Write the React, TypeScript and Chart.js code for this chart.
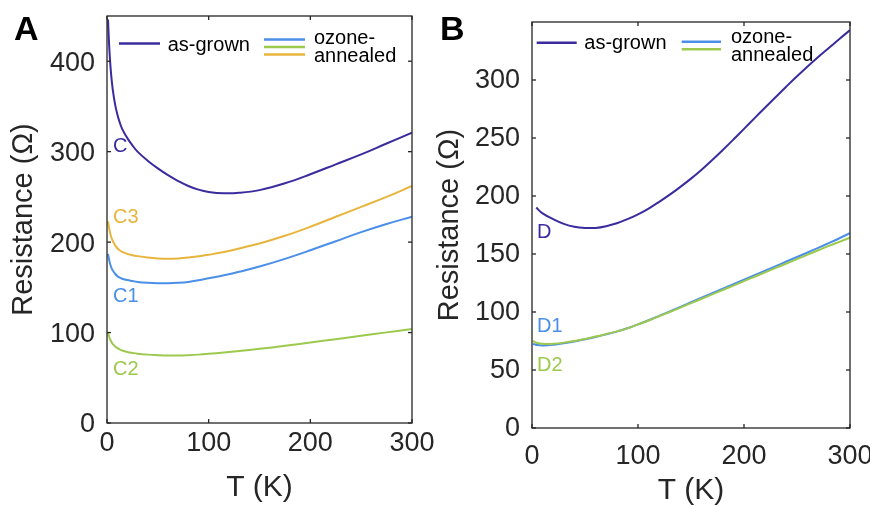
import React, { useEffect, useRef } from 'react';
import { Chart, registerables } from 'chart.js';

Chart.register(...registerables);

// ---------------- Data ----------------
// Panel A (sample C)
const T_A = [1, 2, 3, 4, 5, 6, 8, 10, 12, 15, 20, 25, 30, 40, 50, 60, 70, 80, 90, 100, 115, 130, 150, 175, 200, 225, 250, 275, 300];
const R_C = [446, 420, 401, 386, 375, 366, 352, 342, 334, 325, 315, 307, 300, 290, 281.5, 274, 267.5, 262, 258, 255.5, 254, 254.5, 257.5, 265, 275, 286, 297, 309, 321];
const R_C1 = [187, 181, 176, 172.5, 170, 168, 165, 162.7, 161, 159.5, 158, 157, 156, 155, 154.5, 154.5, 155, 156, 157.8, 160, 163.3, 167.2, 173, 181.5, 191, 201, 211, 220, 228];
const R_C2 = [100, 96, 92.8, 90.3, 88.4, 86.9, 84.7, 83, 81.7, 80.2, 78.6, 77.5, 76.6, 75.6, 75, 74.6, 74.6, 75, 75.6, 76.5, 78, 79.6, 82, 85.3, 89, 92.7, 96.5, 100.2, 104];
const R_C3 = [223, 216, 210.5, 206.3, 203, 200.5, 196.5, 193.5, 191.3, 189.2, 187, 185.5, 184.5, 183, 182, 181.6, 182, 183, 184.4, 186, 189, 193, 198.5, 207, 217, 228, 239, 250, 262];

// Panel B (sample D)
const T_D = [4, 10, 20, 30, 40, 50, 60, 70, 80, 90, 100, 110, 120, 130, 140, 150, 160, 170, 180, 190, 200, 210, 220, 230, 240, 250, 260, 270, 280, 290, 300];
const R_D = [190, 185, 180, 176, 173.5, 172.5, 172.5, 174, 176.5, 180, 184.2, 189.2, 195, 201.2, 207.9, 215, 222.7, 231, 239.7, 248.7, 257.9, 267.1, 276.3, 285.4, 294.4, 303.2, 311.7, 319.8, 327.6, 335.4, 343];
const T_D12 = [1, 3, 5, 10, 15, 20, 30, 40, 50, 60, 70, 80, 90, 100, 110, 120, 130, 140, 150, 160, 170, 180, 190, 200, 210, 220, 230, 240, 250, 260, 270, 280, 290, 300];
const R_D1 = [72.5, 72, 71.5, 71.2, 71.3, 71.8, 73, 74.6, 76.5, 78.5, 80.7, 83.1, 86, 89.3, 92.9, 96.7, 100.5, 104.4, 108.4, 112.3, 116.2, 120.1, 124, 127.9, 131.8, 135.7, 139.6, 143.5, 147.4, 151.3, 155.3, 159.4, 163.6, 168];
const R_D2 = [75, 74, 73.3, 72.6, 72.4, 72.6, 73.6, 75, 76.8, 78.8, 81, 83.3, 85.9, 89.3, 92.7, 96.3, 100, 103.8, 107.6, 111.4, 115.2, 119, 122.8, 126.6, 130.4, 134.2, 138, 141.8, 145.6, 149.4, 153.2, 157, 160.5, 164];

// Axis ticks
const X_TICKS = [0, 100, 200, 300];
const Y_TICKS_A = [0, 100, 200, 300, 400];
const Y_TICKS_B = [0, 50, 100, 150, 200, 250, 300];

// Curve labels (data coordinates: T, R)
const NOTES_A = [
  { text: 'C', t: 5.9, r: 306, key: 'as' },
  { text: 'C3', t: 5.9, r: 227.6, key: 'yellow' },
  { text: 'C1', t: 5.9, r: 140.3, key: 'blue' },
  { text: 'C2', t: 5.9, r: 59.7, key: 'green' },
];
const NOTES_B = [
  { text: 'D', t: 4.7, r: 168.4, key: 'as' },
  { text: 'D1', t: 4.7, r: 87.5, key: 'blue' },
  { text: 'D2', t: 4.7, r: 53.5, key: 'green' },
];

// ---------------- Styles ----------------
const COLORS: Record<string, string> = {
  as: '#3a2c9e',
  blue: '#4a8fe8',
  green: '#9cc94e',
  yellow: '#e7b53d',
};
const FONT = "'Liberation Sans', Arial, Helvetica, sans-serif";
const AXIS_COLOR = '#262626';

function pts(t: number[], r: number[]) {
  return t.map((x, i) => ({ x, y: r[i] }));
}

type PanelCfg = {
  letter: string;
  letterX: number;
  series: { t: number[]; r: number[]; key: string }[];
  notes: { text: string; t: number; r: number; key: string }[];
  yMax: number;
  yTicks: number[];
  yAxisW: number;
  xAxisH: number;
  padTop: number;
  padRight: number;
  xTickPad: number;
  yLabelOffset: number;
  yTitlePad: number;
  yTitleLH: number;
  xTitleLH: number;
  legend: {
    ax1: number; ax2: number; ay: number; atx: number; aty: number;
    ox1: number; ox2: number; oys: number[]; okeys: string[]; otx: number; oty1: number; oty2: number;
  };
};

const PANEL_A: PanelCfg = {
  letter: 'A',
  letterX: 14,
  series: [
    { t: T_A, r: R_C, key: 'as' },
    { t: T_A, r: R_C3, key: 'yellow' },
    { t: T_A, r: R_C1, key: 'blue' },
    { t: T_A, r: R_C2, key: 'green' },
  ],
  notes: NOTES_A,
  yMax: 450,
  yTicks: Y_TICKS_A,
  yAxisW: 107,
  xAxisH: 83,
  padTop: 16,
  padRight: 23,
  xTickPad: 4.5,
  yLabelOffset: 2,
  yTitlePad: 6.6,
  yTitleLH: 1.2,
  xTitleLH: 1.2,
  legend: {
    ax1: 119, ax2: 160, ay: 43.5, atx: 167.7, aty: 50.7,
    ox1: 264, ox2: 305, oys: [39.5, 47, 54.5], okeys: ['blue', 'green', 'yellow'], otx: 314, oty1: 44.3, oty2: 62.3,
  },
};

const PANEL_B: PanelCfg = {
  letter: 'B',
  letterX: 5,
  series: [
    { t: T_D, r: R_D, key: 'as' },
    { t: T_D12, r: R_D2, key: 'green' },
    { t: T_D12, r: R_D1, key: 'blue' },
  ],
  notes: NOTES_B,
  yMax: 350,
  yTicks: Y_TICKS_B,
  yAxisW: 97,
  xAxisH: 78,
  padTop: 22,
  padRight: 20,
  xTickPad: 12.8,
  yLabelOffset: 1,
  yTitlePad: 0,
  yTitleLH: 1.0,
  xTitleLH: 1.0,
  legend: {
    ax1: 101.7, ax2: 141.7, ay: 42.7, atx: 149.3, aty: 49.3,
    ox1: 246.7, ox2: 286, oys: [41.7, 49.3], okeys: ['blue', 'green'], otx: 296, oty1: 42.7, oty2: 61,
  },
};

function buildChart(canvas: HTMLCanvasElement, cfg: PanelCfg) {
  const framePlugin = {
    id: 'frameAndNotes',
    afterDraw(chart: any) {
      const { ctx, chartArea: a, scales } = chart;
      ctx.save();
      // frame
      ctx.strokeStyle = AXIS_COLOR;
      ctx.lineWidth = 1.3;
      ctx.strokeRect(a.left, a.top, a.right - a.left, a.bottom - a.top);
      const L = 4;
      const seg = (x1: number, y1: number, x2: number, y2: number) => {
        ctx.beginPath();
        ctx.moveTo(x1, y1);
        ctx.lineTo(x2, y2);
        ctx.stroke();
      };
      scales.x.ticks.forEach((tk: any) => {
        const p = scales.x.getPixelForValue(tk.value);
        seg(p, a.bottom, p, a.bottom - L);
        seg(p, a.top, p, a.top + L);
      });
      scales.y.ticks.forEach((tk: any) => {
        const p = scales.y.getPixelForValue(tk.value);
        seg(a.left, p, a.left + L, p);
        seg(a.right, p, a.right - L, p);
      });

      // curve labels
      ctx.font = `20px ${FONT}`;
      ctx.textAlign = 'left';
      ctx.textBaseline = 'middle';
      cfg.notes.forEach((n) => {
        ctx.fillStyle = COLORS[n.key];
        ctx.fillText(n.text, scales.x.getPixelForValue(n.t), scales.y.getPixelForValue(n.r));
      });

      // legend
      const lg = cfg.legend;
      ctx.lineWidth = 2.5;
      ctx.strokeStyle = COLORS.as;
      seg(lg.ax1, lg.ay, lg.ax2, lg.ay);
      lg.oys.forEach((y, i) => {
        ctx.strokeStyle = COLORS[lg.okeys[i]];
        seg(lg.ox1, y, lg.ox2, y);
      });
      ctx.fillStyle = '#000';
      ctx.textBaseline = 'alphabetic';
      ctx.fillText('as-grown', lg.atx, lg.aty);
      ctx.fillText('ozone-', lg.otx, lg.oty1);
      ctx.fillText('annealed', lg.otx, lg.oty2);

      // panel letter
      ctx.font = `bold 34px ${FONT}`;
      ctx.fillText(cfg.letter, cfg.letterX, 40);
      ctx.restore();
    },
  };

  return new Chart(canvas, {
    type: 'line',
    data: {
      datasets: cfg.series.map((s) => ({
        data: pts(s.t, s.r),
        borderColor: COLORS[s.key],
        backgroundColor: COLORS[s.key],
        borderWidth: 2,
        pointRadius: 0,
        fill: false,
        tension: 0.4,
      })),
    },
    options: {
      responsive: false,
      maintainAspectRatio: false,
      devicePixelRatio: 1,
      animation: false,
      parsing: false as any,
      layout: { padding: { left: 0, top: cfg.padTop, right: cfg.padRight, bottom: 0 } },
      plugins: { legend: { display: false }, tooltip: { enabled: false } },
      scales: {
        x: {
          type: 'linear',
          position: 'bottom',
          min: 0,
          max: 300,
          afterBuildTicks: (s: any) => {
            s.ticks = X_TICKS.map((v) => ({ value: v }));
          },
          ticks: {
            font: { family: FONT, size: 27 },
            color: AXIS_COLOR,
            padding: cfg.xTickPad,
            maxRotation: 0,
            autoSkip: false,
          },
          grid: { display: false, drawTicks: false },
          border: { display: false },
          title: {
            display: true,
            text: 'T (K)',
            color: AXIS_COLOR,
            font: { family: FONT, size: 30, lineHeight: cfg.xTitleLH },
            padding: 0,
          },
          afterFit: (s: any) => {
            s.height = cfg.xAxisH;
            s.paddingLeft = 0;
            s.paddingRight = 0;
          },
        },
        y: {
          type: 'linear',
          position: 'left',
          min: 0,
          max: cfg.yMax,
          afterBuildTicks: (s: any) => {
            s.ticks = cfg.yTicks.map((v) => ({ value: v }));
          },
          ticks: {
            font: { family: FONT, size: 27 },
            color: AXIS_COLOR,
            padding: 12,
            labelOffset: cfg.yLabelOffset,
          },
          grid: { display: false, drawTicks: false },
          border: { display: false },
          title: {
            display: true,
            text: 'Resistance (Ω)',
            color: AXIS_COLOR,
            font: { family: FONT, size: 29, lineHeight: cfg.yTitleLH },
            padding: { top: cfg.yTitlePad, bottom: 0 },
          },
          afterFit: (s: any) => {
            s.width = cfg.yAxisW;
            s.paddingTop = 0;
            s.paddingBottom = 0;
          },
        },
      },
    } as any,
    plugins: [framePlugin],
  });
}

export default function App() {
  const refA = useRef<HTMLCanvasElement>(null);
  const refB = useRef<HTMLCanvasElement>(null);

  useEffect(() => {
    const a = buildChart(refA.current!, PANEL_A);
    const b = buildChart(refB.current!, PANEL_B);
    return () => {
      a.destroy();
      b.destroy();
    };
  }, []);

  return (
    <div style={{ position: 'absolute', left: 0, top: 0, width: 870, height: 506, background: '#fff' }}>
      <canvas ref={refA} width={435} height={506} style={{ position: 'absolute', left: 0, top: 0, width: 435, height: 506 }} />
      <canvas ref={refB} width={435} height={506} style={{ position: 'absolute', left: 435, top: 0, width: 435, height: 506 }} />
    </div>
  );
}
